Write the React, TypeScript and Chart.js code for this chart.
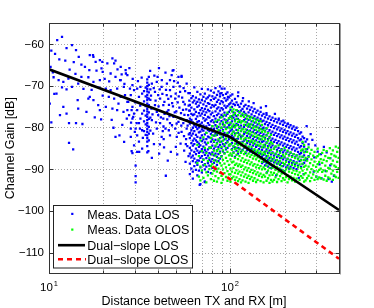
import { useEffect, useRef } from "react";
import { Chart, registerables } from "chart.js";

Chart.register(...registerables);

// ---- data (distance in m, channel gain in dB) ----
// Sparse LOS measurements read individually: [distance, gain]
const losSparse: [number, number][] = [
  [11.8,-58.3],[11.1,-59.1],[10.3,-61.6],[10.8,-62.4],[11.4,-63.7],[12.5,-61.0],[13.4,-60.3],[14.1,-61.5],[14.6,-63.1],[13.7,-64.4],
  [12.3,-64.0],[15.1,-65.0],[16.8,-62.7],[17.6,-63.1],[18.1,-64.3],[19.1,-63.9],[15.8,-65.5],[16.7,-66.3],[18.3,-66.4],[19.5,-65.9],
  [10.6,-68.0],[11.3,-68.7],[12.0,-69.1],[12.8,-68.3],[11.8,-70.4],[11.0,-71.9],[10.7,-72.0],[12.5,-70.9],[13.4,-70.3],[14.5,-69.5],
  [15.1,-67.9],[16.5,-68.0],[17.6,-69.1],[19.1,-68.7],[14.4,-73.5],[14.5,-75.5],[16.5,-73.1],[16.8,-72.7],[17.6,-73.5],[18.7,-74.7],
  [12.0,-75.1],[11.5,-77.1],[10.1,-74.3],[12.5,-76.7],[14.1,-79.0],[15.3,-79.2],[12.9,-79.0],[10.3,-78.8],[12.9,-83.7],[13.6,-85.3],
  [19.1,-75.9],[10.2,-65.5],[10.5,-66.8],[13.0,-66.2],[14.0,-67.2],[15.5,-70.8],[17.2,-71.0],[18.9,-70.5],[19.8,-72.4],[16.1,-76.3],
  [17.9,-77.6],[19.4,-78.1],[17.5,-62.7],[19.7,-64.3],
  [21.0,-64.7],[22.9,-64.7],[22.4,-63.5],[23.3,-64.0],[24.9,-65.5],[26.5,-66.3],[19.8,-66.7],[21.9,-67.1],[23.3,-67.9],[24.9,-68.7],
  [27.1,-67.5],[25.9,-70.3],[23.8,-70.7],[21.9,-71.1],[20.6,-70.7],[28.9,-69.9],[29.5,-71.1],[30.7,-70.7],[32.0,-70.3],[32.7,-71.9],
  [31.4,-72.7],[28.3,-72.3],[27.1,-73.9],[24.9,-72.7],[22.9,-73.1],[21.4,-72.7],[28.9,-75.1],[30.7,-75.9],[29.5,-76.7],[27.7,-77.1],
  [32.7,-76.7],[32.0,-77.9],[28.9,-77.9],[27.1,-75.9],[23.8,-75.9],[22.4,-75.5],[20.6,-75.1],[31.4,-79.0],[30.1,-80.3],[28.3,-80.3],
  [32.7,-80.7],[30.7,-81.9],[28.3,-82.3],[31.4,-83.4],[29.5,-84.3],[24.5,-81.9],[23.3,-82.3],[32.7,-85.1],[30.7,-85.9],[28.9,-86.2],
  [25.2,-67.3],[26.6,-67.1],[24.7,-68.7],[28.0,-70.7],[26.3,-72.3],[27.4,-73.9],[28.6,-75.9],[29.2,-77.5],[30.5,-79.0],[26.9,-77.9],
  [25.8,-76.3],[31.8,-80.3],[29.8,-81.1],[30.1,-89.2],[30.1,-91.7],[30.1,-93.2],[37.0,-87.3],[44.2,-91.6],[31.5,-85.9],[28.6,-85.7],
  [35.4,-85.7],[21.5,-69.0],[22.2,-78.2],[23.9,-66.1],[24.2,-74.3],[25.4,-79.4],[26.1,-69.6],[27.8,-65.8],[28.4,-78.9],[29.0,-68.4],
  [30.0,-74.0],[31.0,-68.9],[31.9,-74.8],[32.5,-68.1],[33.0,-82.5],[26.0,-83.5],[20.3,-68.4],[22.7,-80.1],
  [39.4,-69.1],[42.0,-68.7],[44.8,-69.5],[46.6,-71.1],[48.2,-66.4],[47.6,-67.5],[51.9,-67.9],[54.0,-67.9],[41.1,-73.1],[42.8,-74.7],
  [39.4,-76.3],[45.7,-75.9],[48.7,-77.5],[51.9,-78.7],[55.2,-79.0],[57.6,-78.3],[58.7,-77.1],[41.1,-79.0],[44.0,-80.3],[37.6,-81.5],
  [46.6,-81.9],[50.8,-82.3],[37.0,-69.5],[38.5,-71.5],[40.1,-72.3],[41.9,-70.3],[44.7,-72.3],[46.6,-68.7],[48.7,-70.3],[49.8,-73.1],
  [53.0,-71.5],[55.2,-73.9],[38.5,-74.7],[40.1,-77.1],[42.8,-77.9],[37.0,-78.3],[46.6,-79.0],[49.8,-80.3],[54.0,-81.1],[57.6,-80.3],
  [39.4,-80.3],[41.9,-82.3],[48.7,-66.3],[52.5,-75.3],[53.6,-76.6],[56.3,-74.5],[57.2,-82.8],[58.1,-84.5],[55.8,-85.6],[59.2,-81.7],
  [53.3,-83.9],[51.1,-86.5],[56.8,-88.3],[59.6,-73.6],[58.9,-71.8],[55.4,-70.6],[54.0,-67.7],[57.6,-69.5],[36.2,-66.5],[38.0,-84.0],
  [43.2,-84.8],[47.1,-85.9],[50.2,-84.7],[45.3,-88.0],[40.6,-86.3],[36.8,-75.5],[43.5,-76.8],[47.9,-74.2],[52.1,-72.6],[56.0,-77.0],
  [59.0,-86.9],[44.0,-66.9],[40.5,-65.8],[38.2,-67.6],[42.5,-80.9],[45.0,-78.1],[50.5,-76.2],[53.8,-79.6],[57.0,-84.0],[59.5,-76.0],
  [36.6,-72.4],[37.3,-76.9],[37.9,-70.6],[38.8,-73.6],[39.0,-78.8],[39.8,-67.9],[40.3,-75.0],[40.9,-70.9],[41.5,-77.6],[42.3,-72.0],
  [42.9,-79.8],[43.4,-73.9],[44.3,-71.0],[44.9,-76.3],[45.6,-73.2],[45.9,-80.7],[46.3,-77.3],[47.2,-72.6],[47.8,-79.5],[48.4,-75.0],
  [49.1,-68.9],[49.5,-76.4],[50.1,-71.9],[50.7,-79.1],[51.4,-74.0],[52.0,-81.3],[52.8,-70.2],[53.5,-78.0],[54.4,-72.9],[55.0,-75.8],
  [55.7,-82.1],[56.5,-71.3],[57.3,-75.7],[58.3,-79.6],[59.1,-74.8],[59.8,-78.6],[51.5,-69.3],[46.0,-74.6],[43.0,-82.8],[41.0,-84.1],
  [97.4,-72.7],[103.0,-72.1],[111.0,-71.6],[118.0,-73.0],[127.0,-73.8],[135.0,-74.2],[148.0,-75.3],[158.0,-74.9],[90.0,-70.7],[88.0,-71.9],
  [159.0,-76.6],[177.0,-76.8],[197.0,-78.4],[186.0,-77.9],[209.0,-79.1],[265.0,-79.7],[285.0,-83.0],[296.0,-84.3],[358.0,-87.4],[358.0,-89.1],
  [365.0,-93.0],[320.0,-92.2],[305.0,-85.8],[312.0,-88.9],[338.0,-90.5],[342.0,-86.0],[375.0,-91.6],[290.0,-90.6],[300.0,-91.8],[330.0,-84.7],
  [350.0,-92.4],[255.0,-91.2],[240.0,-92.1],[180.0,-91.5],[160.0,-90.8],[68.0,-93.8],[72.6,-93.1],[279.0,-81.6],[292.0,-87.2],[318.0,-86.4]
];

// Dense LOS measurements, grouped per distance: [distance, gain, gain, ...]
const losColumns: number[][] = [
  [33.5,-71.3,-73.8,-76.0,-78.6,-80.9],
  [34.2,-70.5,-72.6,-74.9,-77.2,-79.3,-81.8],
  [34.9,-68.5,-69.3,-70.1,-70.8,-71.4,-72.2,-72.9,-73.5,-74.3,-75.0,-75.6,-76.2,-76.9,-77.5,-78.3,-79.0,-79.6,-80.4,-81.1,-81.9,-82.6,-83.4,-84.5,-86.0],
  [35.6,-67.9,-69.8,-71.6,-73.1,-74.7,-76.4,-78.0,-79.9,-81.5,-83.1],
  [36.3,-70.9,-73.4,-77.7,-80.8],
  [60.0,-71.8,-74.6,-76.0,-77.9,-79.1,-81.4,-82.6,-84.9,-86.3,-88.7,-91.2],
  [61.2,-73.0,-75.3,-76.8,-78.2,-80.7,-82.0,-83.8,-85.5,-87.2,-89.9],
  [62.3,-72.5,-74.0,-77.1,-78.8,-80.1,-81.5,-83.2,-84.4,-86.8,-88.1,-90.6,-92.3],
  [63.5,-70.4,-73.6,-75.7,-76.9,-79.5,-80.9,-82.7,-84.0,-85.9,-87.5,-89.3],
  [64.8,-72.9,-74.3,-76.3,-78.0,-79.9,-81.8,-83.1,-85.1,-86.4,-88.4,-90.2],
  [66.0,-71.5,-73.9,-75.1,-77.4,-78.7,-80.4,-82.3,-83.5,-85.6,-87.9,-89.0,-91.5],
  [67.3,-73.3,-74.8,-76.6,-78.5,-80.0,-81.2,-83.9,-84.7,-86.1,-88.0,-90.4],
  [68.6,-72.1,-74.1,-75.9,-77.2,-79.3,-81.0,-82.5,-84.3,-85.8,-87.3,-89.6,-93.6],
  [69.9,-70.8,-73.4,-75.4,-76.7,-78.9,-80.5,-81.9,-83.3,-85.2,-86.9,-88.3,-90.8],
  [71.3,-72.7,-74.5,-76.2,-77.8,-79.6,-80.8,-82.9,-84.6,-86.0,-87.7,-89.1],
  [72.6,-71.9,-73.8,-75.6,-77.0,-78.4,-80.2,-81.7,-83.6,-85.4,-86.6,-88.8,-90.1,-93.0],
  [74.0,-73.1,-74.9,-76.4,-78.1,-79.8,-81.3,-82.8,-84.1,-85.9,-87.4,-89.4],
  [75.5,-70.9,-72.8,-74.2,-75.8,-77.5,-79.0,-80.6,-82.2,-83.7,-85.3,-86.8,-88.6,-90.7],
  [76.9,-72.4,-74.4,-76.1,-77.7,-79.4,-80.9,-82.4,-84.8,-86.2,-87.8,-89.2],
  [78.4,-71.2,-73.5,-75.3,-76.9,-78.6,-80.3,-81.6,-83.4,-84.9,-86.5,-88.2,-91.0],
  [79.9,-72.6,-74.7,-76.5,-78.3,-79.7,-81.1,-82.9,-84.4,-86.0,-87.6,-89.7],
  [81.5,-71.7,-73.2,-75.0,-77.3,-78.8,-80.4,-82.0,-83.5,-85.1,-86.7,-88.5],
  [83.1,-70.6,-72.9,-74.6,-76.2,-77.9,-79.5,-81.5,-83.0,-84.6,-86.3,-87.9,-90.0],
  [84.7,-72.2,-73.9,-75.5,-77.1,-78.7,-80.2,-81.8,-83.7,-85.5,-87.1,-89.0],
  [86.3,-71.4,-73.4,-75.2,-76.7,-78.3,-79.9,-81.4,-83.2,-84.7,-86.4,-88.1],
  [88.0,-70.2,-72.6,-74.3,-76.0,-77.6,-79.1,-80.8,-82.6,-84.2,-85.8,-87.5],
  [89.7,-71.8,-73.7,-75.4,-77.0,-78.5,-80.1,-81.7,-83.4,-85.0,-86.9],
  [91.4,-72.3,-74.0,-75.7,-77.4,-79.2,-80.7,-82.3,-84.0,-85.7],
  [93.2,-70.7,-73.0,-74.8,-76.5,-78.1,-79.8,-81.3,-82.9,-84.5,-86.2],
  [95.0,-72.0,-73.6,-75.3,-77.2,-78.8,-80.3,-82.1,-83.8,-85.3],
  [96.8,-71.6,-73.3,-74.9,-76.8,-78.4,-80.0,-81.6,-83.3,-84.9],
  [98.7,-72.8,-74.5,-76.3,-77.9,-79.5,-81.2,-82.8,-84.3],
  [100.6,-72.4,-74.2,-75.8,-77.5,-79.1,-80.8,-82.4,-84.1],
  [102.5,-73.6,-75.1,-77.3,-78.6,-80.5,-81.9,-83.8,-85.2,-86.8],
  [104.5,-74.4,-76.4,-77.7,-79.8,-81.0,-82.4,-84.6,-86.0],
  [106.5,-73.2,-74.7,-76.9,-78.2,-79.6,-81.5,-83.1,-84.8,-87.1],
  [108.6,-74.0,-75.9,-77.3,-79.2,-80.6,-82.8,-83.9,-85.6],
  [110.7,-72.5,-74.6,-76.1,-78.0,-79.4,-81.3,-82.7,-84.9,-86.3],
  [112.8,-75.1,-76.5,-78.7,-80.1,-81.8,-83.6,-85.1],
  [115.0,-74.3,-76.0,-77.2,-79.6,-80.9,-82.3,-84.2,-85.9],
  [117.2,-73.7,-75.6,-77.1,-78.5,-80.4,-82.1,-83.5,-85.4],
  [119.5,-75.0,-76.3,-78.3,-79.9,-81.6,-83.2,-84.9],
  [121.8,-74.6,-76.8,-77.9,-79.4,-81.2,-82.9,-84.5,-86.2],
  [124.2,-75.5,-77.2,-78.8,-80.6,-82.1,-83.8,-85.5],
  [126.6,-74.9,-76.4,-78.2,-79.8,-81.5,-83.3,-84.8],
  [129.0,-75.8,-77.5,-79.3,-80.8,-82.4,-84.1,-85.8],
  [131.5,-75.2,-76.9,-78.6,-80.2,-81.9,-83.5,-85.2],
  [134.0,-76.2,-77.8,-79.5,-81.1,-82.8,-84.4,-86.1],
  [136.6,-75.6,-77.3,-78.9,-80.6,-82.3,-83.9,-85.6],
  [139.3,-76.5,-78.1,-79.8,-81.4,-83.1,-84.7,-86.4],
  [142.0,-76.0,-77.7,-79.3,-81.0,-82.6,-84.3,-86.0],
  [144.7,-76.9,-78.5,-80.2,-81.8,-83.5,-85.2,-86.8],
  [147.5,-76.3,-78.0,-79.6,-81.3,-82.9,-84.6,-86.3],
  [150.3,-77.2,-78.6,-80.4,-82.1,-83.5,-85.4,-87.0,-88.6],
  [153.2,-76.8,-78.4,-80.1,-81.7,-83.3,-84.8,-86.6,-88.3],
  [156.1,-77.6,-79.2,-80.9,-82.5,-84.2,-85.8,-87.5,-89.1],
  [159.1,-77.0,-78.7,-80.3,-81.8,-83.6,-85.3,-86.9,-88.6],
  [162.2,-77.9,-79.5,-81.2,-82.8,-84.5,-86.1,-87.8,-89.4],
  [165.3,-77.4,-79.0,-80.7,-82.3,-83.9,-85.6,-87.3,-88.9],
  [168.5,-78.2,-79.9,-81.5,-83.2,-84.8,-86.5,-88.1,-89.8],
  [171.7,-77.7,-79.4,-81.0,-82.7,-84.3,-86.0,-87.6,-89.3],
  [175.0,-78.5,-80.2,-81.8,-83.5,-85.1,-86.8,-88.4],
  [178.4,-78.0,-79.7,-81.3,-83.0,-84.6,-86.3,-87.9,-89.6],
  [181.9,-78.8,-80.5,-82.1,-83.8,-85.4,-87.1,-88.7],
  [185.4,-78.3,-80.0,-81.6,-83.3,-84.9,-86.6,-88.2,-89.9],
  [189.0,-79.1,-80.8,-82.4,-84.1,-85.7,-87.4,-89.0],
  [192.6,-78.6,-80.3,-81.9,-83.6,-85.2,-86.9,-88.5,-90.2],
  [196.3,-79.4,-81.1,-82.7,-84.4,-86.0,-87.7,-89.3],
  [200.1,-78.9,-80.6,-82.2,-83.9,-85.5,-87.2,-88.8,-90.5],
  [204.0,-79.7,-81.4,-83.0,-84.7,-86.3,-88.0,-89.6],
  [207.9,-79.2,-80.9,-82.5,-84.2,-85.8,-87.5,-89.1],
  [211.9,-80.0,-81.7,-83.3,-85.0,-86.6,-88.3,-89.9],
  [216.0,-79.5,-81.2,-82.8,-84.5,-86.1,-87.8,-89.4],
  [220.2,-80.3,-82.0,-83.6,-85.3,-86.9,-88.6],
  [224.4,-79.8,-81.5,-83.1,-84.8,-86.4,-88.1,-89.7],
  [228.8,-80.6,-82.3,-83.9,-85.6,-87.2,-88.9],
  [233.2,-80.1,-81.8,-83.4,-85.1,-86.7,-88.4,-90.0],
  [237.7,-80.9,-82.6,-84.2,-85.9,-87.5,-89.2],
  [242.3,-81.5,-83.1,-84.8,-86.4,-88.1],
  [247.0,-81.2,-82.9,-84.5,-86.2,-87.8,-89.5],
  [251.7,-82.2,-83.8,-85.5,-87.1,-88.8],
  [256.6,-82.6,-84.6,-86.7,-88.5],
  [261.5,-83.4,-85.8,-87.9],
  [266.6,-82.9,-85.2,-87.6],
  [271.7,-84.1,-86.9]
];

// OLOS measurements, grouped per distance: [distance, gain, gain, ...]
const olosColumns: number[][] = [
  [66.0,-84.2,-88.6],
  [67.3,-86.9,-91.8],
  [68.6,-83.1,-89.4,-92.7],
  [69.9,-85.7,-90.3],
  [71.3,-82.4,-87.8,-92.1],
  [72.6,-84.9,-89.0],
  [74.0,-81.3,-86.2,-90.8,-93.2],
  [75.5,-83.7,-88.1,-91.5],
  [76.9,-80.5,-85.0,-87.3,-90.0],
  [78.4,-82.6,-84.8,-89.3,-92.4],
  [79.9,-79.7,-81.9,-86.4,-88.8,-91.1],
  [81.5,-80.9,-83.3,-85.6,-87.9,-90.4,-92.8],
  [83.1,-78.6,-82.0,-84.4,-86.8,-89.5,-91.7],
  [84.7,-79.8,-81.4,-83.9,-85.7,-88.2,-90.6,-93.0],
  [86.3,-78.2,-80.6,-82.9,-85.2,-87.4,-89.9,-92.2],
  [88.0,-79.3,-81.7,-83.5,-86.1,-88.6,-90.9],
  [89.7,-77.6,-80.1,-82.4,-84.7,-87.0,-89.2,-91.6,-93.3],
  [91.4,-78.8,-80.9,-83.2,-85.5,-87.8,-90.1,-92.5],
  [93.2,-77.1,-79.5,-81.8,-84.1,-86.3,-88.7,-91.0],
  [95.0,-78.3,-80.4,-82.7,-85.0,-87.3,-89.6,-91.9],
  [96.8,-76.5,-79.0,-81.3,-83.6,-85.9,-88.1,-90.5,-92.8],
  [98.7,-77.8,-80.0,-82.2,-84.4,-86.7,-89.0,-91.3],
  [100.6,-75.3,-77.4,-78.9,-80.2,-82.6,-84.0,-86.3,-87.7,-89.9,-91.3,-93.0],
  [102.5,-76.2,-77.9,-79.8,-81.5,-83.1,-85.4,-86.8,-88.4,-90.6,-92.2],
  [104.5,-75.7,-77.1,-79.3,-81.0,-82.8,-84.5,-86.1,-88.2,-89.7,-91.8],
  [106.5,-76.6,-78.6,-80.0,-81.9,-83.9,-85.2,-87.3,-89.0,-90.9,-92.6],
  [108.6,-75.9,-78.0,-79.5,-81.4,-83.0,-84.9,-86.6,-88.7,-90.3,-92.0],
  [110.7,-77.1,-78.7,-80.7,-82.2,-84.2,-85.8,-87.6,-89.3,-91.1,-92.9],
  [112.8,-76.3,-78.3,-79.9,-81.7,-83.6,-85.3,-86.9,-88.9,-90.6,-92.4],
  [115.0,-77.3,-78.9,-80.8,-82.7,-84.3,-86.1,-88.0,-89.5,-91.5,-93.2],
  [117.2,-76.7,-78.5,-80.4,-82.0,-83.7,-85.6,-87.4,-89.2,-90.8,-92.7],
  [119.5,-77.5,-79.4,-81.1,-82.9,-84.8,-86.4,-88.3,-90.1,-91.8],
  [121.8,-77.0,-78.7,-80.5,-82.5,-84.1,-85.9,-87.8,-89.6,-91.3,-93.0],
  [124.2,-77.9,-79.6,-81.4,-83.3,-84.9,-86.8,-88.6,-90.4,-92.1],
  [126.6,-77.3,-79.2,-80.9,-82.6,-84.6,-86.3,-88.0,-89.8,-91.6,-93.3],
  [129.0,-78.1,-79.9,-81.7,-83.5,-85.4,-87.1,-88.9,-90.7,-92.4],
  [131.5,-77.6,-79.3,-81.2,-83.1,-84.7,-86.6,-88.4,-90.2,-91.9],
  [134.0,-78.5,-80.2,-82.1,-83.8,-85.6,-87.5,-89.2,-91.0,-92.8],
  [136.6,-77.9,-79.8,-81.5,-83.3,-85.2,-86.9,-88.8,-90.5,-92.2],
  [139.3,-78.8,-80.6,-82.3,-84.2,-85.9,-87.7,-89.6,-91.3,-93.1],
  [142.0,-78.2,-80.0,-81.9,-83.6,-85.5,-87.2,-89.0,-90.8,-92.6],
  [144.7,-79.1,-80.8,-82.7,-84.4,-86.2,-88.1,-89.8,-91.6],
  [147.5,-78.5,-80.4,-82.1,-83.9,-85.8,-87.5,-89.3,-91.1,-92.9],
  [150.3,-79.4,-81.1,-82.9,-84.8,-86.5,-88.3,-90.1,-91.9],
  [153.2,-80.6,-82.3,-84.2,-86.0,-87.7,-89.6,-91.4,-93.2],
  [156.1,-81.0,-82.9,-84.6,-86.4,-88.2,-90.0,-91.8],
  [159.1,-80.2,-82.0,-83.8,-85.7,-87.4,-89.2,-91.0,-92.8],
  [162.2,-81.4,-83.2,-85.0,-86.8,-88.6,-90.4,-92.2],
  [165.3,-82.5,-84.3,-86.1,-87.9,-89.7,-91.5,-93.3],
  [168.5,-81.8,-83.6,-85.4,-87.2,-89.0,-90.8,-92.6],
  [171.7,-83.9,-86.2,-88.0,-89.7,-91.4,-93.0],
  [175.0,-85.1,-87.3,-89.1,-90.9,-92.6],
  [178.4,-84.6,-86.5,-88.4,-90.2,-92.0],
  [181.9,-85.8,-87.8,-89.5,-91.3,-93.1],
  [185.4,-84.3,-86.9,-88.7,-90.6,-92.4],
  [189.0,-86.1,-88.1,-89.9,-91.7],
  [192.6,-85.4,-87.4,-89.3,-91.1,-92.9],
  [196.3,-86.6,-88.5,-90.4,-92.2],
  [200.1,-84.9,-87.0,-88.9,-90.7,-92.6],
  [204.0,-86.3,-88.3,-90.1,-91.9],
  [207.9,-85.6,-87.6,-89.6,-91.5,-93.2],
  [211.9,-86.8,-88.8,-90.6,-92.4],
  [216.0,-86.0,-88.0,-89.9,-91.8],
  [220.2,-87.1,-89.0,-90.9,-92.7],
  [224.4,-86.4,-88.4,-90.3,-92.1],
  [228.8,-87.4,-89.3,-91.2,-93.0],
  [233.2,-86.7,-88.6,-90.5,-92.3],
  [237.7,-87.7,-89.6,-91.4],
  [242.3,-87.0,-88.9,-90.8,-92.6],
  [247.0,-85.6,-87.9,-89.8,-91.7],
  [251.7,-83.5,-85.3,-87.0,-88.7,-90.4,-92.1],
  [256.6,-84.2,-86.0,-87.8,-89.5,-91.3,-93.0],
  [261.5,-85.2,-87.3,-89.2,-91.0,-92.7],
  [266.6,-85.9,-88.0,-90.1,-92.2],
  [271.7,-84.8,-87.1,-89.4,-91.6],
  [277.0,-86.3,-88.6,-90.8,-92.9],
  [282.0,-85.4,-87.7,-90.0,-92.1],
  [288.0,-86.8,-89.1,-91.3],
  [293.0,-85.9,-88.2,-90.5,-92.6],
  [299.0,-87.2,-89.5,-91.8],
  [305.0,-85.1,-86.9,-88.8,-90.6,-92.4],
  [311.0,-86.5,-88.3,-90.2,-92.0],
  [317.0,-87.6,-89.9,-92.2],
  [323.0,-86.1,-88.5,-90.7],
  [329.0,-85.4,-87.8,-90.3,-92.5],
  [336.0,-86.9,-89.2,-91.6],
  [342.0,-85.7,-88.1,-90.5,-92.8],
  [349.0,-87.3,-89.7,-92.0],
  [356.0,-85.0,-87.4,-89.9,-92.3],
  [363.0,-86.4,-88.8,-91.1],
  [370.0,-85.5,-88.0,-90.4,-92.6],
  [377.0,-86.8,-89.2,-91.5],
  [384.0,-84.6,-87.0,-89.5,-91.9],
  [391.0,-85.9,-88.3,-90.7],
  [398.0,-84.9,-87.3,-89.8,-92.1]
];

// Dual-slope model lines: breakpoints
const dualLosDist = [10, 100, 400];
const dualLosGain = [-66.1, -82.3, -99.8];
const dualOlosDist = [80, 100, 400];
const dualOlosGain = [-89.4, -92.4, -111.5];

// Axes
const xMin = 10;
const xMax = 400;
const yMin = -115;
const yMax = -55;
const yTickValues = [-110, -100, -90, -80, -70, -60];
const xGridValues = [20, 30, 40, 50, 60, 70, 80, 90, 100, 200, 300];
const xDecadeValues = [10, 100];

const legendLabels = ["Meas. Data LOS", "Meas. Data OLOS", "Dual\u2212slope LOS", "Dual\u2212slope OLOS"];
const xTitle = "Distance between TX and RX [m]";
const yTitle = "Channel Gain [dB]";

const FONT = '"Liberation Sans", Arial, Helvetica, sans-serif';
const BLUE = "#0000ff";
const GREEN = "#00ff00";

function toPoints(sparse: [number, number][], cols: number[][]) {
  const pts: { x: number; y: number }[] = [];
  for (const [d, g] of sparse) pts.push({ x: d, y: g });
  for (const row of cols) {
    const d = row[0];
    for (let i = 1; i < row.length; i++) pts.push({ x: d, y: row[i] });
  }
  return pts;
}

const overlay = {
  id: "overlay",
  beforeDatasetsDraw(chart: any) {
    const { ctx, chartArea: a, scales } = chart;
    const xs = scales.x;
    const ys = scales.y;
    ctx.save();
    ctx.strokeStyle = "#a8a8a8";
    ctx.lineWidth = 1;
    ctx.setLineDash([1, 2]);
    for (const v of xGridValues) {
      const px = Math.round(xs.getPixelForValue(v)) + 0.5;
      ctx.beginPath();
      ctx.moveTo(px, a.top);
      ctx.lineTo(px, a.bottom);
      ctx.stroke();
    }
    for (const v of yTickValues) {
      const py = Math.round(ys.getPixelForValue(v)) + 0.5;
      ctx.beginPath();
      ctx.moveTo(a.left, py);
      ctx.lineTo(a.right, py);
      ctx.stroke();
    }
    ctx.restore();
  },
  afterDraw(chart: any) {
    const { ctx, chartArea: a, scales } = chart;
    const xs = scales.x;
    const ys = scales.y;
    ctx.save();
    const L = Math.round(a.left) + 0.5;
    const R = Math.round(a.right) + 0.5;
    const T = Math.round(a.top) + 0.5;
    const B = Math.round(a.bottom) + 0.5;
    ctx.setLineDash([]);
    ctx.strokeStyle = "#333333";
    ctx.lineWidth = 1;
    ctx.strokeRect(L, T, R - L, B - T);
    ctx.strokeStyle = "#9a9a9a";
    ctx.beginPath();
    ctx.moveTo(R + 1, T);
    ctx.lineTo(R + 1, B + 1);
    ctx.stroke();
    ctx.strokeStyle = "#333333";
    for (const v of yTickValues) {
      const py = Math.round(ys.getPixelForValue(v)) + 0.5;
      ctx.beginPath();
      ctx.moveTo(L, py); ctx.lineTo(L + 4, py);
      ctx.moveTo(R, py); ctx.lineTo(R - 4, py);
      ctx.stroke();
    }
    for (const v of xGridValues) {
      const px = Math.round(xs.getPixelForValue(v)) + 0.5;
      const len = v === 100 ? 5 : 3;
      ctx.beginPath();
      ctx.moveTo(px, B); ctx.lineTo(px, B - len);
      ctx.moveTo(px, T); ctx.lineTo(px, T + len);
      ctx.stroke();
    }
    ctx.fillStyle = "#000";
    ctx.font = `11.5px ${FONT}`;
    ctx.textAlign = "right";
    ctx.textBaseline = "middle";
    for (const v of yTickValues) {
      const py = ys.getPixelForValue(v);
      const label = v < 0 ? "\u2212" + Math.abs(v) : String(v);
      ctx.fillText(label, a.left - 5, py + 0.5);
    }
    ctx.textBaseline = "alphabetic";
    for (const v of xDecadeValues) {
      const px = xs.getPixelForValue(v);
      const exp = String(Math.round(Math.log10(v)));
      ctx.font = `11.5px ${FONT}`;
      const wb = ctx.measureText("10").width;
      ctx.font = `7.5px ${FONT}`;
      const we = ctx.measureText(exp).width;
      const start = px - (wb + we + 1) / 2;
      ctx.textAlign = "left";
      ctx.font = `11.5px ${FONT}`;
      ctx.fillText("10", start, a.bottom + 17.5);
      ctx.font = `7.5px ${FONT}`;
      ctx.fillText(exp, start + wb + 1, a.bottom + 12.5);
    }
    ctx.font = `12.5px ${FONT}`;
    ctx.textAlign = "center";
    ctx.textBaseline = "alphabetic";
    ctx.fillText(xTitle, (a.left + a.right) / 2, 304.5);
    ctx.save();
    ctx.translate(13.5, (a.top + a.bottom) / 2);
    ctx.rotate(-Math.PI / 2);
    ctx.fillText(yTitle, 0, 0);
    ctx.restore();
    const lx = 53.5, ly = 205.5, lw = 139, lh = 62.5;
    ctx.fillStyle = "#ffffff";
    ctx.fillRect(lx, ly, lw, lh);
    ctx.strokeStyle = "#222222";
    ctx.lineWidth = 1;
    ctx.strokeRect(lx, ly, lw, lh);
    const rowsY = [219, 234, 249.5, 264];
    ctx.fillStyle = BLUE;
    ctx.fillRect(71.2, rowsY[0] - 6.2, 2.2, 2.2);
    ctx.fillStyle = GREEN;
    ctx.fillRect(71.2, rowsY[1] - 5.5, 2.2, 2.2);
    ctx.strokeStyle = "#000000";
    ctx.lineWidth = 2.6;
    ctx.beginPath();
    ctx.moveTo(58, rowsY[2] - 4.3);
    ctx.lineTo(85, rowsY[2] - 4.3);
    ctx.stroke();
    ctx.strokeStyle = "#ff0000";
    ctx.setLineDash([5, 4]);
    ctx.beginPath();
    ctx.moveTo(58, rowsY[3] - 4.8);
    ctx.lineTo(86, rowsY[3] - 4.8);
    ctx.stroke();
    ctx.setLineDash([]);
    ctx.fillStyle = "#000";
    ctx.font = `12.5px ${FONT}`;
    ctx.textAlign = "left";
    legendLabels.forEach((t, i) => ctx.fillText(t, 87.3, rowsY[i]));
    ctx.restore();
  },
};

export default function App() {
  const ref = useRef<HTMLCanvasElement | null>(null);
  useEffect(() => {
    if (!ref.current) return;
    const chart = new Chart(ref.current, {
      type: "scatter",
      data: {
        datasets: [
          {
            label: "Dual-slope LOS",
            data: dualLosDist.map((d, i) => ({ x: d, y: dualLosGain[i] })),
            showLine: true,
            borderColor: "#000000",
            borderWidth: 2.6,
            pointRadius: 0,
            fill: false,
            order: 0,
          },
          {
            label: "Dual-slope OLOS",
            data: dualOlosDist.map((d, i) => ({ x: d, y: dualOlosGain[i] })),
            showLine: true,
            borderColor: "#ff0000",
            borderWidth: 2.6,
            borderDash: [5, 4],
            pointRadius: 0,
            fill: false,
            order: 1,
          },
          {
            label: "Meas. Data OLOS",
            data: toPoints([], olosColumns),
            showLine: false,
            backgroundColor: GREEN,
            pointStyle: "rect",
            pointRadius: 1.6,
            pointBorderWidth: 0,
            order: 2,
          },
          {
            label: "Meas. Data LOS",
            data: toPoints(losSparse, losColumns),
            showLine: false,
            backgroundColor: BLUE,
            pointStyle: "rect",
            pointRadius: 1.6,
            pointBorderWidth: 0,
            order: 3,
          },
        ],
      },
      options: {
        animation: false,
        responsive: false,
        events: [],
        layout: { padding: { left: 49, top: 23, right: 35, bottom: 34.6 } },
        plugins: { legend: { display: false }, tooltip: { enabled: false } },
        scales: {
          x: { type: "logarithmic", min: xMin, max: xMax, display: false },
          y: { type: "linear", min: yMin, max: yMax, display: false },
        },
      },
      plugins: [overlay],
    } as any);
    return () => chart.destroy();
  }, []);
  return (
    <div style={{ position: "fixed", left: 0, top: 0, width: 374, height: 308, background: "#fff" }}>
      <canvas ref={ref} width={374} height={308} style={{ display: "block" }} />
    </div>
  );
}
